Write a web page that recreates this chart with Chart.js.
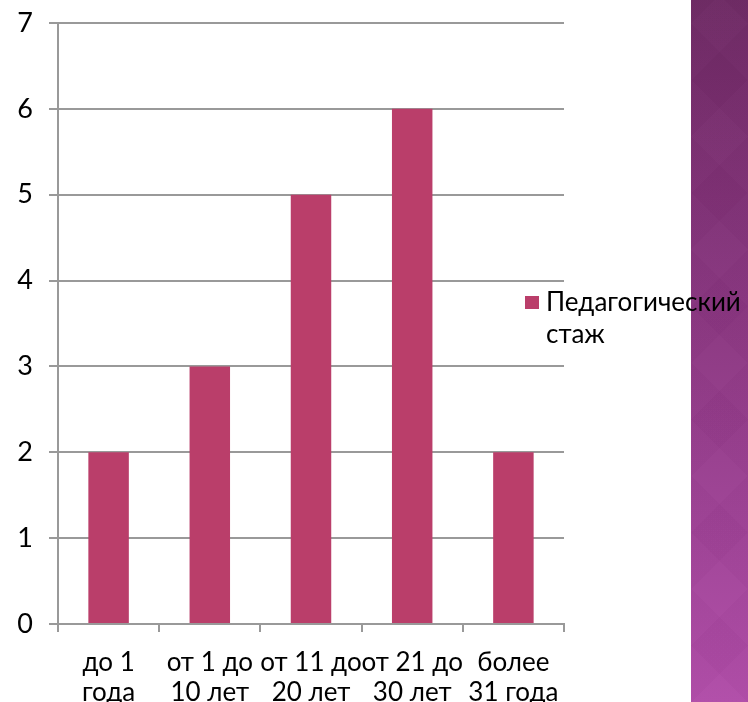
<!DOCTYPE html>
<html lang="ru">
<head>
<meta charset="utf-8">
<title>Педагогический стаж</title>
<script src="https://cdn.jsdelivr.net/npm/chart.js@4"></script>
<style>
  html, body { margin: 0; padding: 0; background: #fff; }
  #wrap { position: relative; width: 748px; height: 702px; overflow: hidden; }
  #strip {
    position: absolute; left: 691px; top: 0; width: 57px; height: 702px;
    background:
      repeating-linear-gradient(45deg, rgba(255,255,255,0.012) 0 40px, rgba(0,0,0,0.012) 40px 80px),
      repeating-linear-gradient(-45deg, rgba(255,255,255,0.012) 0 40px, rgba(0,0,0,0.012) 40px 80px),
      linear-gradient(to bottom, #6d2963 0%, #8a3680 45%, #b04ca8 100%);
  }
  #grafico { position: absolute; left: 0; top: 0; }
</style>
</head>
<body>
<div id="wrap">
  <div id="strip"></div>
  <canvas id="grafico" width="748" height="702"></canvas>
</div>
<script>
const categorias = [
  ['до 1', 'года'],
  ['от 1 до', '10 лет'],
  ['от 11 до', '20 лет'],
  ['от 21 до', '30 лет'],
  ['более', '31 года']
];
const valores = [2, 3, 5, 6, 2];
const rotuloSerie = 'Педагогический стаж';
const ticksY = [0, 1, 2, 3, 4, 5, 6, 7];

const corBarra = '#ba3e6a';
const corGrade = '#999999';
const fonte = 'Lato, "Open Sans", sans-serif';

// legenda desenhada à mão, com quebra de linha como no original
const legendaLateral = {
  id: 'legendaLateral',
  afterDraw(chart) {
    const ctx = chart.ctx;
    const ds = chart.data.datasets[0];
    const linhas = ds.label.split(' ');
    const x = 525, y = 296;
    ctx.save();
    ctx.fillStyle = ds.backgroundColor;
    ctx.fillRect(x, y, 14, 13);
    ctx.fillStyle = '#000';
    ctx.font = '26px ' + fonte;
    ctx.textBaseline = 'alphabetic';
    ctx.fillText(linhas[0], x + 21, 311);
    ctx.fillText(linhas[1], x + 21, 343);
    ctx.restore();
  }
};

new Chart(document.getElementById('grafico').getContext('2d'), {
  type: 'bar',
  data: {
    labels: categorias,
    datasets: [{
      label: rotuloSerie,
      data: valores,
      backgroundColor: corBarra,
      barPercentage: 0.4,
      categoryPercentage: 1
    }]
  },
  options: {
    responsive: false,
    animation: false,
    layout: { padding: { top: 23, right: 184, left: 0, bottom: 0 } },
    plugins: { legend: { display: false }, tooltip: { enabled: false } },
    scales: {
      y: {
        min: 0,
        max: 7,
        afterFit(scale) {
          scale.width = 58;
          scale.paddingTop = 0;
          scale.paddingBottom = 0;
        },
        afterBuildTicks(scale) { scale.ticks = ticksY.map(v => ({ value: v })); },
        ticks: { color: '#000', padding: 16, font: { family: fonte, size: 27 } },
        grid: { color: corGrade, lineWidth: 2, tickLength: 9 },
        border: { color: corGrade, width: 2 }
      },
      x: {
        afterFit(scale) { scale.height = 78; },
        ticks: {
          color: '#000', padding: 16, autoSkip: false, maxRotation: 0, minRotation: 0,
          font: { family: fonte, size: 26, lineHeight: 1.14 }
        },
        grid: { color: corGrade, lineWidth: 2, drawOnChartArea: false, tickLength: 8, offset: true },
        border: { color: corGrade, width: 2 }
      }
    }
  },
  plugins: [legendaLateral]
});
</script>
</body>
</html>
